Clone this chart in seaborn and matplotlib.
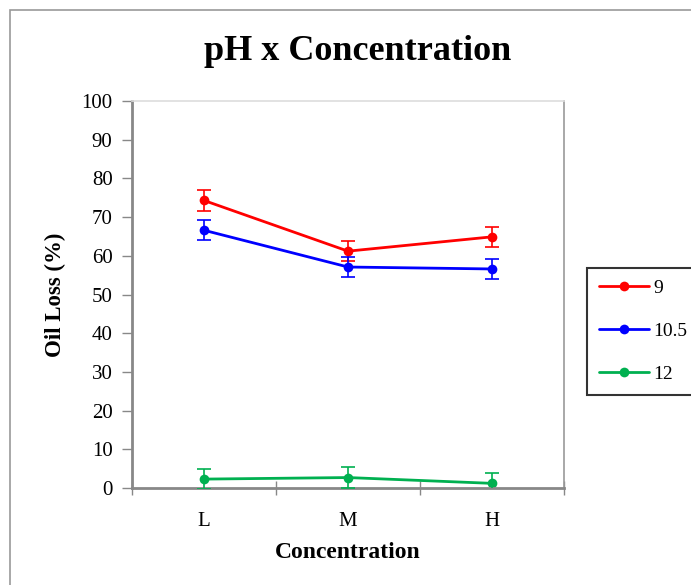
import matplotlib
matplotlib.use("Agg")
import matplotlib.pyplot as plt
import seaborn as sns
import pandas as pd
from matplotlib.patches import Rectangle

categories = ["L", "M", "H"]
ph_levels = ["9", "10.5", "12"]
loss_ph9 = [74.3, 61.2, 64.9]
loss_ph105 = [66.6, 57.1, 56.6]
loss_ph12 = [2.3, 2.7, 1.2]
err_ph9 = [2.6, 2.6, 2.6]
err_ph105 = [2.6, 2.6, 2.6]
err_ph12 = [2.6, 2.6, 2.6]
colors = ["#FF0000", "#0000FF", "#00B050"]

sns.set_theme(style="white")
plt.rcParams["font.family"] = ["Liberation Serif", "DejaVu Serif"]
plt.rcParams["text.color"] = "black"
plt.rcParams["axes.labelcolor"] = "black"
plt.rcParams["xtick.color"] = "black"
plt.rcParams["ytick.color"] = "black"

rows = []
for ph, vals, errs in zip(ph_levels, [loss_ph9, loss_ph105, loss_ph12], [err_ph9, err_ph105, err_ph12]):
    for c, v, e in zip(categories, vals, errs):
        rows.append({"Concentration": c, "pH": ph, "Loss": v, "Err": e})
df = pd.DataFrame(rows)

fig = plt.figure(figsize=(6.91, 5.85), dpi=100)
ax = fig.add_axes([132/691, 1-488/585, (564-132)/691, (488-101)/585])

palette = dict(zip(ph_levels, colors))
sns.lineplot(data=df, x="Concentration", y="Loss", hue="pH", hue_order=ph_levels,
             palette=palette, marker="o", markersize=7, markeredgewidth=0,
             linewidth=2, ax=ax, sort=False, legend=True)
for ph in ph_levels:
    sub = df[df["pH"] == ph]
    ax.errorbar(sub["Concentration"], sub["Loss"], yerr=sub["Err"], fmt="none",
                ecolor=palette[ph], elinewidth=1.2, capsize=5, capthick=1.2, zorder=3)

ax.set_xlim(-0.5, 2.5)
ax.set_ylim(0, 100)
ax.set_yticks(range(0, 101, 10))
ax.set_xticks([0, 1, 2])
ax.set_xticks([-0.5, 0.5, 1.5, 2.5], minor=True)
ax.tick_params(axis="x", which="major", length=0, labelsize=15, pad=17, labelcolor="black")
ax.tick_params(axis="x", which="minor", length=10, width=1, direction="inout", color="#888888", bottom=True)
ax.tick_params(axis="y", length=7, width=1, direction="out", color="#888888", labelsize=15, pad=7, left=True, labelcolor="black")

ax.set_xlabel("Concentration", fontsize=17, fontweight="bold", labelpad=8)
ax.set_ylabel("Oil Loss (%)", fontsize=16.5, fontweight="bold", labelpad=11)

for side in ["left", "bottom"]:
    ax.spines[side].set_color("#888888")
    ax.spines[side].set_linewidth(2)
ax.spines["right"].set_color("#999999")
ax.spines["right"].set_linewidth(1.2)
ax.spines["top"].set_color("#dddddd")
ax.spines["top"].set_linewidth(1.2)

fig.text(358/691, 1-52/585, "pH x Concentration", ha="center", va="center",
         fontsize=26, fontweight="bold", color="black")

handles, labels = ax.get_legend_handles_labels()
ax.get_legend().remove()
leg = fig.legend(handles, labels, loc="upper left", bbox_to_anchor=(587/691, 1-268/585),
                 fontsize=14, frameon=True, fancybox=False, edgecolor="black",
                 labelspacing=1.3, handlelength=2.6, handletextpad=0.2, borderpad=0.6,
                 borderaxespad=0)
leg.get_frame().set_linewidth(1.5)
for t in leg.get_texts():
    t.set_color("black")

fig.patches.append(Rectangle((10/691, -0.1), 1.2, 1-10/585+0.1, transform=fig.transFigure,
                             fill=False, edgecolor="#999999", linewidth=1.2))

fig.savefig("out.png", dpi=100)
